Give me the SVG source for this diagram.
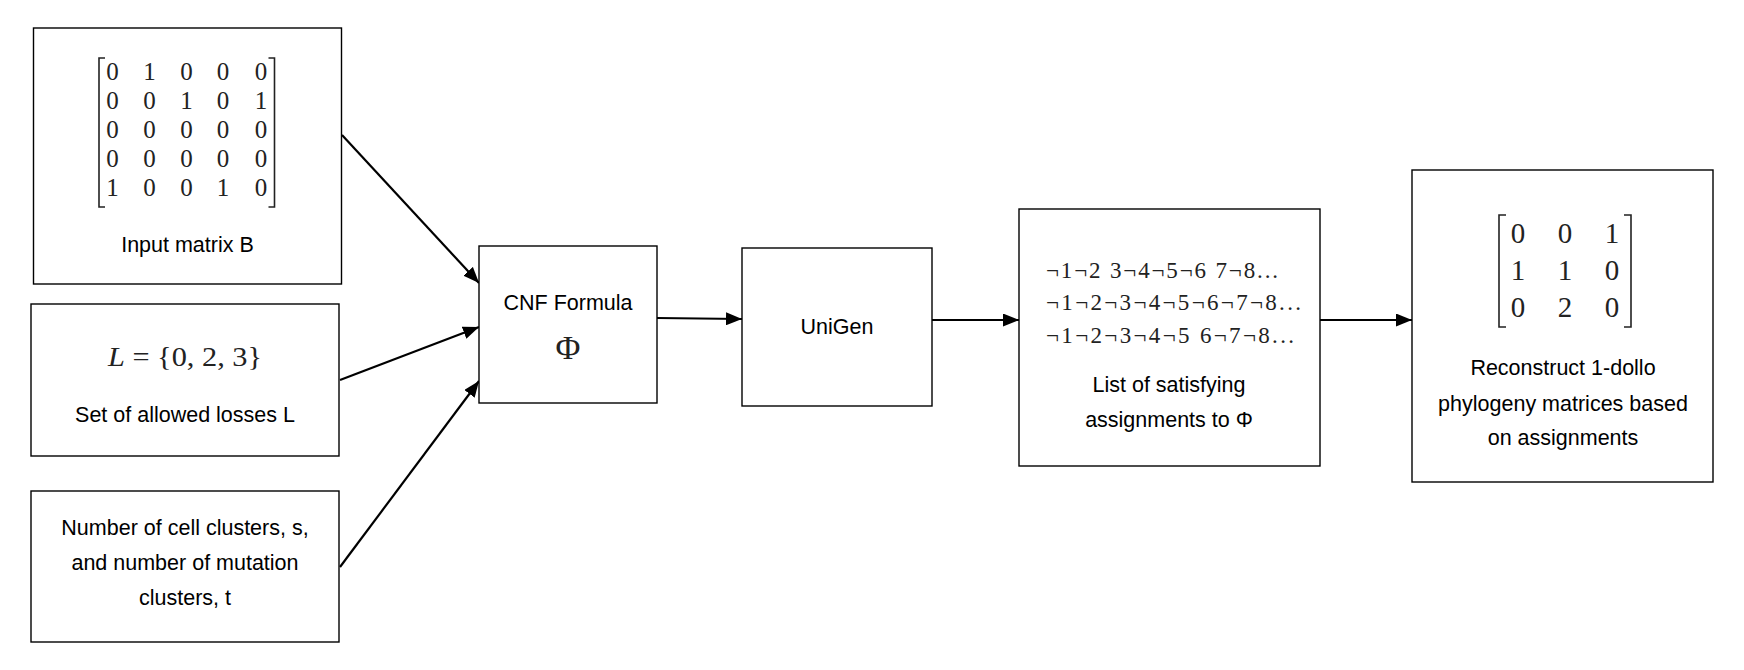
<svg xmlns="http://www.w3.org/2000/svg" width="1744" height="670" viewBox="0 0 1744 670">
<style>
.box{fill:#fff;stroke:#000;stroke-width:1.4}
.lbl{font-family:"Liberation Sans",Arial,sans-serif;font-size:21.5px;fill:#000;text-anchor:middle}
.math{font-family:"Liberation Serif","Times New Roman",serif;fill:#222;text-anchor:middle}
.brk{fill:none;stroke:#222;stroke-width:1.6}
.edge{stroke:#000;stroke-width:2.2;fill:none;marker-end:url(#ah)}
</style>
<defs>
<marker id="ah" markerUnits="userSpaceOnUse" markerWidth="16" markerHeight="13" refX="16" refY="6.5" orient="auto">
<path d="M0,0 L16,6.5 L0,13 z" fill="#000"/>
</marker>
</defs>
<rect width="1744" height="670" fill="#fff"/>
<g id="edges">
<line class="edge" x1="342" y1="135" x2="479" y2="283"/>
<line class="edge" x1="340" y1="380" x2="479" y2="327"/>
<line class="edge" x1="340" y1="567" x2="479" y2="381"/>
<line class="edge" x1="657" y1="318" x2="742" y2="319"/>
<line class="edge" x1="932" y1="320" x2="1019" y2="320"/>
<line class="edge" x1="1320" y1="320" x2="1412" y2="320"/>
</g>
<g id="input-matrix">
<rect class="box" x="33.5" y="28" width="308" height="256"/>
<path class="brk" d="M105,58 H99 V207 H105"/>
<path class="brk" d="M268.5,58 H274.5 V207 H268.5"/>
<g class="math" font-size="25">
<text x="112.5" y="80">0</text><text x="149.5" y="80">1</text><text x="186.5" y="80">0</text><text x="223" y="80">0</text><text x="261" y="80">0</text>
<text x="112.5" y="109">0</text><text x="149.5" y="109">0</text><text x="186.5" y="109">1</text><text x="223" y="109">0</text><text x="261" y="109">1</text>
<text x="112.5" y="138">0</text><text x="149.5" y="138">0</text><text x="186.5" y="138">0</text><text x="223" y="138">0</text><text x="261" y="138">0</text>
<text x="112.5" y="167">0</text><text x="149.5" y="167">0</text><text x="186.5" y="167">0</text><text x="223" y="167">0</text><text x="261" y="167">0</text>
<text x="112.5" y="196">1</text><text x="149.5" y="196">0</text><text x="186.5" y="196">0</text><text x="223" y="196">1</text><text x="261" y="196">0</text>
</g>
<text class="lbl" x="187.5" y="252">Input matrix B</text>
</g>
<g id="losses">
<rect class="box" x="31" y="304" width="308" height="152"/>
<text class="math" x="185" y="366" font-size="28" textLength="154" lengthAdjust="spacingAndGlyphs"><tspan font-style="italic">L</tspan> = {0, 2, 3}</text>
<text class="lbl" x="185" y="422">Set of allowed losses L</text>
</g>
<g id="clusters">
<rect class="box" x="31" y="491" width="308" height="151"/>
<text class="lbl" x="185" y="535">Number of cell clusters, s,</text>
<text class="lbl" x="185" y="570">and number of mutation</text>
<text class="lbl" x="185" y="605">clusters, t</text>
</g>
<g id="cnf">
<rect class="box" x="479" y="246" width="178" height="157"/>
<text class="lbl" x="568" y="310">CNF Formula</text>
<text class="math" x="568" y="359" font-size="34">Φ</text>
</g>
<g id="unigen">
<rect class="box" x="742" y="248" width="190" height="158"/>
<text class="lbl" x="837" y="334">UniGen</text>
</g>
<g id="assignments">
<rect class="box" x="1019" y="209" width="301" height="257"/>
<g font-family="'Liberation Serif','Times New Roman',serif" font-size="23" fill="#222">
<text x="1046" y="278" textLength="232" lengthAdjust="spacing">¬1¬2 3¬4¬5¬6 7¬8...</text>
<text x="1046" y="310" textLength="255" lengthAdjust="spacing">¬1¬2¬3¬4¬5¬6¬7¬8...</text>
<text x="1046" y="343" textLength="248" lengthAdjust="spacing">¬1¬2¬3¬4¬5 6¬7¬8...</text>
</g>
<text class="lbl" x="1169" y="392">List of satisfying</text>
<text class="lbl" x="1169" y="427">assignments to Φ</text>
</g>
<g id="reconstruct">
<rect class="box" x="1412" y="170" width="301" height="312"/>
<path class="brk" d="M1506,215 H1499 V327 H1506"/>
<path class="brk" d="M1624,215 H1631 V327 H1624"/>
<g class="math" font-size="29">
<text x="1518" y="243">0</text><text x="1565" y="243">0</text><text x="1612" y="243">1</text>
<text x="1518" y="280">1</text><text x="1565" y="280">1</text><text x="1612" y="280">0</text>
<text x="1518" y="317">0</text><text x="1565" y="317">2</text><text x="1612" y="317">0</text>
</g>
<text class="lbl" x="1563" y="375">Reconstruct 1-dollo</text>
<text class="lbl" x="1563" y="411">phylogeny matrices based</text>
<text class="lbl" x="1563" y="445">on assignments</text>
</g>
</svg>
